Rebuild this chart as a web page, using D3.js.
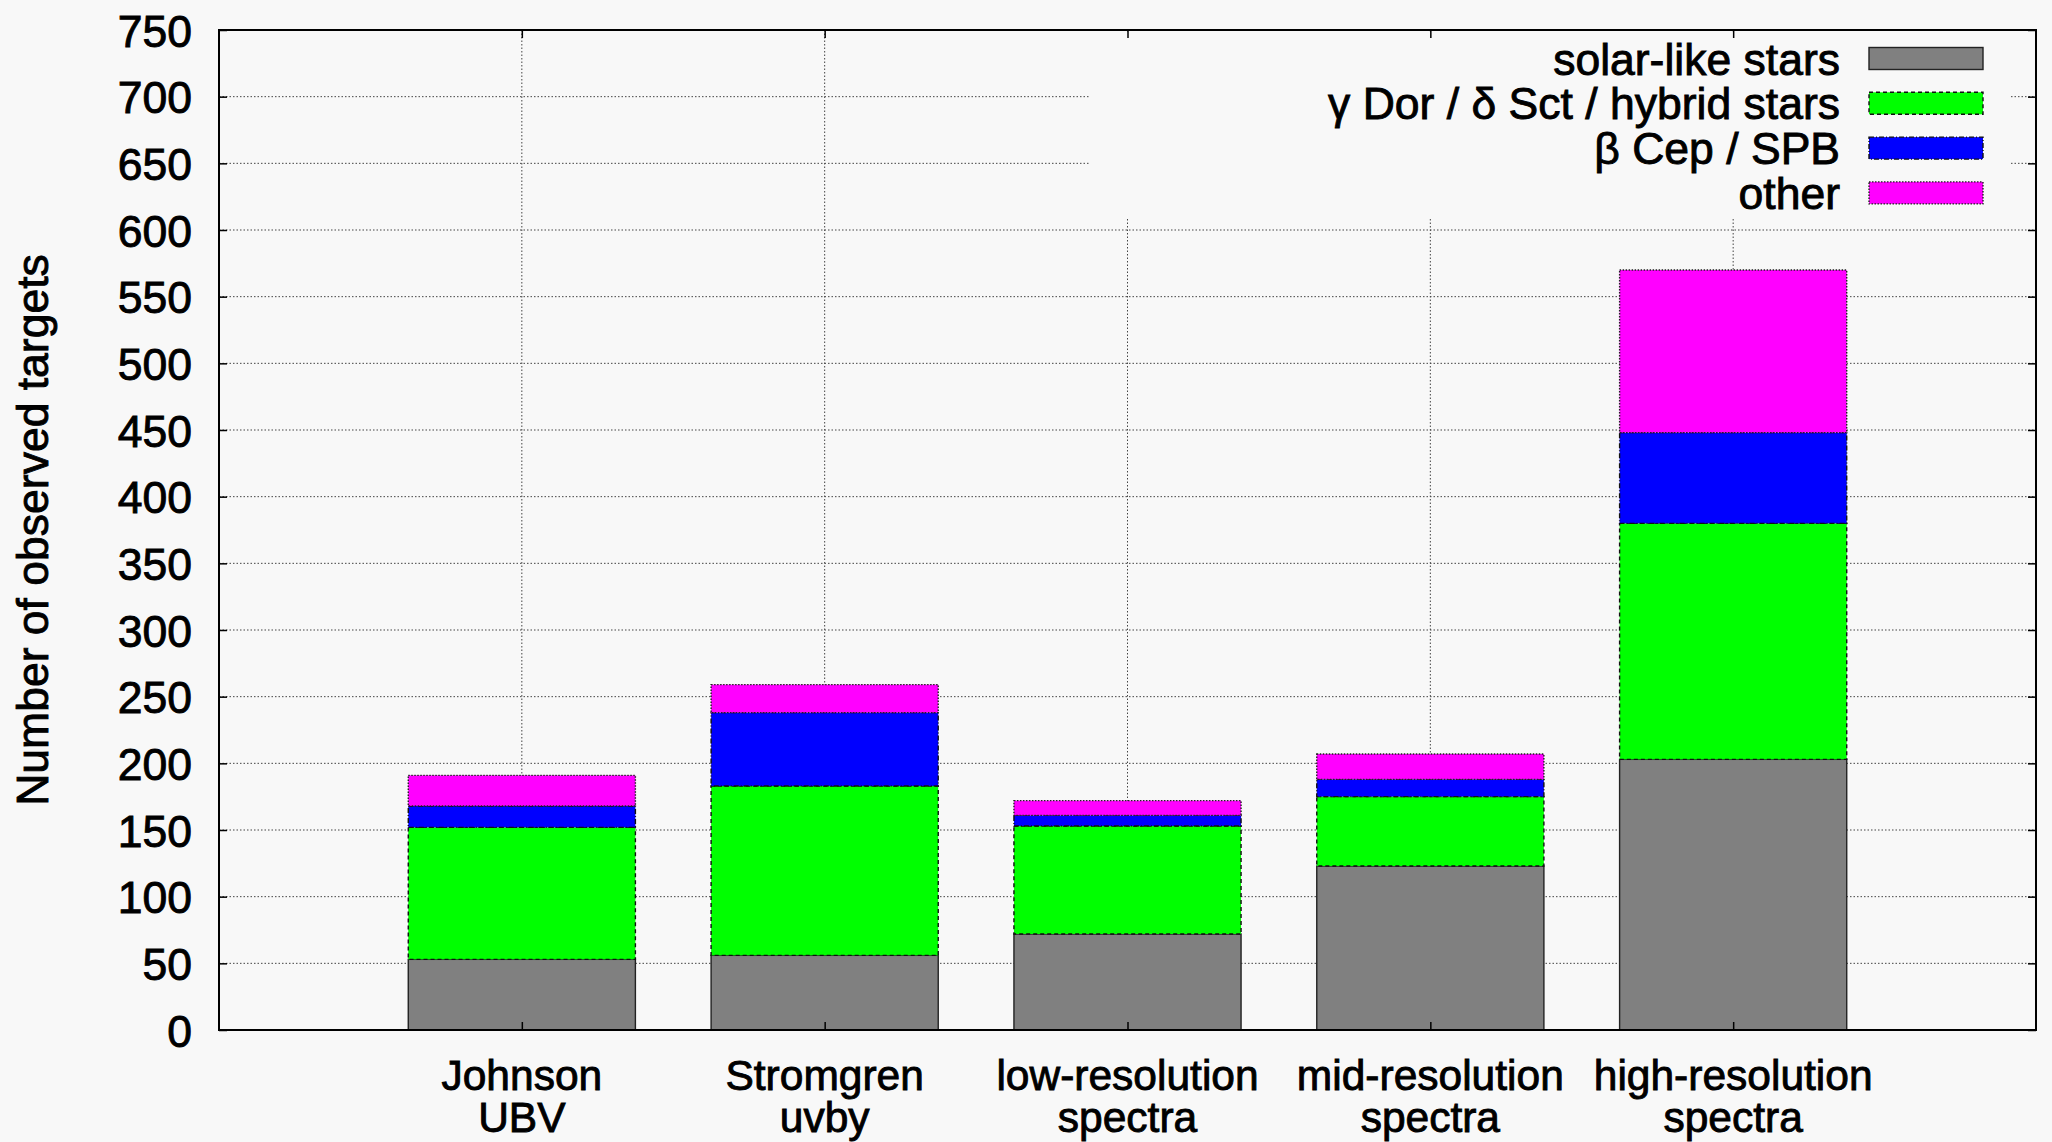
<!DOCTYPE html>
<html>
<head>
<meta charset="utf-8">
<script src="https://cdn.jsdelivr.net/npm/d3@7"></script>
<style>
  html, body { margin: 0; padding: 0; background: #f8f8f8; }
  svg { display: block; }
  text { font-family: "Liberation Sans", Arial, Helvetica, sans-serif; fill: #000; stroke: #000; stroke-width: 0.9px; }
</style>
</head>
<body>
<svg id="chart" width="2052" height="1142"></svg>
<script>
// ---- data ----
const categories = [
  ["Johnson", "UBV"],
  ["Stromgren", "uvby"],
  ["low-resolution", "spectra"],
  ["mid-resolution", "spectra"],
  ["high-resolution", "spectra"]
];
const seriesNames = ["solar-like stars", "γ Dor / δ Sct / hybrid stars", "β Cep / SPB", "other"];
const solarLike = [53, 56, 72, 123, 203];
const gammaDelta = [99, 127, 81, 52, 177];
const betaCepSPB = [16, 55, 8, 13, 68];
const other = [23, 21, 11, 19, 122];
const yTicks = [0, 50, 100, 150, 200, 250, 300, 350, 400, 450, 500, 550, 600, 650, 700, 750];

// ---- styles ----
const colors = ["#808080", "#00ff00", "#0000ff", "#ff00ff"];
const borderDash = [null, "4,3", "5,2,1,2", "1.5,1.5"];
const borderColor = ["#222", "#111", "#111", "#222"];

const M = { left: 219, right: 2036, top: 30, bottom: 1030 };

const svg = d3.select("#chart");
svg.append("rect").attr("width", 2052).attr("height", 1142).attr("fill", "#f8f8f8");

const x = d3.scaleLinear().domain([-1, 5]).range([M.left, M.right]);
const y = d3.scaleLinear().domain([0, 750]).range([M.bottom, M.top]);
const barW = x(0.75) - x(0);

const rows = categories.map((c, i) => ({
  i, s0: solarLike[i], s1: gammaDelta[i], s2: betaCepSPB[i], s3: other[i]
}));
const keys = ["s0", "s1", "s2", "s3"];
const stacked = d3.stack().keys(keys)(rows);

// grid
const grid = svg.append("g");
grid.selectAll("line.h").data(yTicks.filter(v => v > 0 && v < 750)).join("line")
  .attr("x1", M.left).attr("x2", M.right)
  .attr("y1", d => y(d)).attr("y2", d => y(d))
  .attr("stroke", "#444").attr("stroke-width", 1).attr("stroke-dasharray", "1.5,2");
grid.selectAll("line.v").data(d3.range(categories.length)).join("line")
  .attr("x1", d => x(d)).attr("x2", d => x(d))
  .attr("y1", M.top).attr("y2", M.bottom)
  .attr("stroke", "#444").attr("stroke-width", 1).attr("stroke-dasharray", "1.5,2");

// legend opaque background (covers grid)
svg.append("rect").attr("x", 1089).attr("y", 33).attr("width", 2009 - 1089).attr("height", 218 - 33)
  .attr("fill", "#f8f8f8");

// bars
const barsG = svg.append("g");
stacked.forEach((layer, k) => {
  barsG.selectAll(null).data(layer).join("rect")
    .attr("x", d => x(d.data.i) - barW / 2)
    .attr("width", barW)
    .attr("y", d => y(d[1]))
    .attr("height", d => y(d[0]) - y(d[1]))
    .attr("fill", colors[k])
    .attr("stroke", borderColor[k])
    .attr("stroke-width", 1.4)
    .attr("stroke-dasharray", borderDash[k]);
});

// y axis (labels + inner ticks)
const yAxis = d3.axisLeft(y).tickValues(yTicks).tickSizeInner(-8).tickSizeOuter(0).tickPadding(27);
const ya = svg.append("g").attr("transform", `translate(${M.left},0)`).call(yAxis);
ya.select(".domain").remove();
ya.selectAll("line").attr("stroke", "#000").attr("stroke-width", 1.5);
ya.selectAll("text").attr("font-size", 44.5).attr("font-family", '"Liberation Sans", Arial, sans-serif')
  .attr("dy", "0.36em").attr("fill", "#000");

// right mirror ticks
const yr = svg.append("g").attr("transform", `translate(${M.right},0)`)
  .call(d3.axisRight(y).tickValues(yTicks).tickSizeInner(-8).tickSizeOuter(0).tickFormat(""));
yr.select(".domain").remove();
yr.selectAll("line").attr("stroke", "#000").attr("stroke-width", 1.5);

// x axis ticks (bottom and top mirror)
const xb = svg.append("g").attr("transform", `translate(0,${M.bottom})`)
  .call(d3.axisBottom(x).tickValues(d3.range(categories.length)).tickSizeInner(-8).tickSizeOuter(0).tickFormat(""));
xb.select(".domain").remove();
xb.selectAll("line").attr("stroke", "#000").attr("stroke-width", 1.5);
const xt = svg.append("g").attr("transform", `translate(0,${M.top})`)
  .call(d3.axisTop(x).tickValues(d3.range(categories.length)).tickSizeInner(-8).tickSizeOuter(0).tickFormat(""));
xt.select(".domain").remove();
xt.selectAll("line").attr("stroke", "#000").attr("stroke-width", 1.5);

// x labels (two separate lines)
const xl = svg.append("g");
categories.forEach((c, i) => {
  xl.append("text").attr("x", x(i)).attr("y", 1090).attr("text-anchor", "middle")
    .attr("font-size", 42.5).text(c[0]);
  xl.append("text").attr("x", x(i)).attr("y", 1132).attr("text-anchor", "middle")
    .attr("font-size", 42.5).text(c[1]);
});

// frame
svg.append("rect").attr("x", M.left).attr("y", M.top)
  .attr("width", M.right - M.left).attr("height", M.bottom - M.top)
  .attr("fill", "none").attr("stroke", "#000").attr("stroke-width", 2);

// y label
svg.append("text")
  .attr("transform", `translate(48,${(M.top + M.bottom) / 2}) rotate(-90)`)
  .attr("text-anchor", "middle").attr("font-size", 44.5)
  .text("Number of observed targets");

// legend
const lg = svg.append("g");
seriesNames.forEach((name, k) => {
  const cy = 58.5 + k * 44.8;
  lg.append("text").attr("x", 1840).attr("y", cy).attr("dy", "0.36em")
    .attr("text-anchor", "end").attr("font-size", 44.5).text(name);
  lg.append("rect").attr("x", 1869).attr("y", cy - 11).attr("width", 114).attr("height", 22)
    .attr("fill", colors[k]).attr("stroke", borderColor[k]).attr("stroke-width", 1.4)
    .attr("stroke-dasharray", borderDash[k]);
});
</script>
</body>
</html>
